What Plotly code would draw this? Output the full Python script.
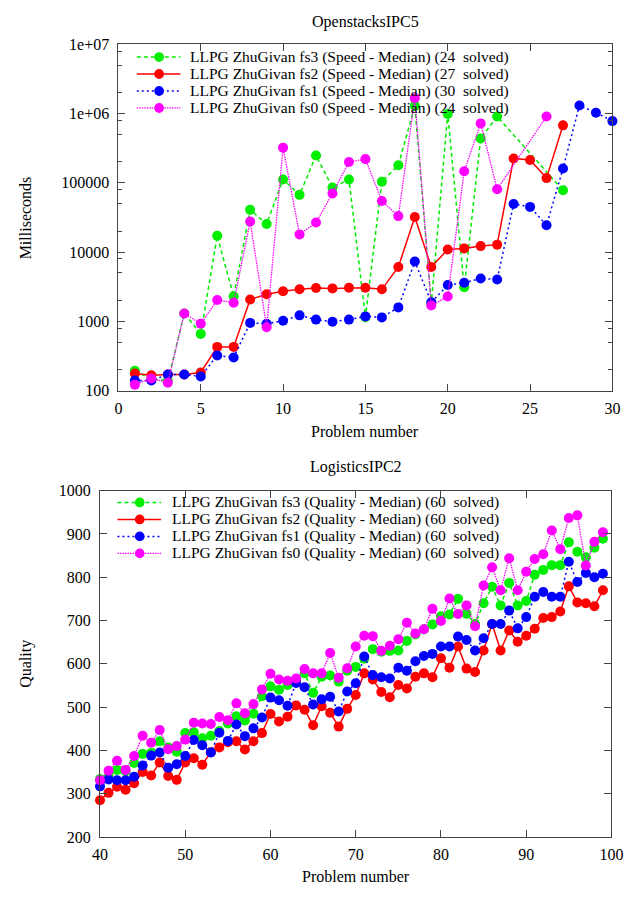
import plotly.graph_objects as go

W, H = 637, 898
FONT = "Liberation Serif"

# ---------------- OpenstacksIPC5 (Speed, milliseconds, log scale) ----------------
os_fs3_x = list(range(1, 24)) + [27]
os_fs3_y = [193, 147, 139, 1300, 659, 17200, 2300, 40700, 25500, 112000, 67000, 248000,
            85300, 112000, 1150, 104000, 179000, 1300000, 1800, 989000, 3100, 437000,
            907000, 78200]

os_fs2_x = list(range(1, 28))
os_fs2_y = [177, 166, 171, 171, 183, 428, 428, 2070, 2460, 2720, 2900, 3030, 2990, 3060,
            3060, 2900, 6090, 32100, 6090, 10900, 11300, 12200, 12800, 225000, 213000,
            117000, 676000]

os_fs1_x = list(range(1, 31))
os_fs1_y = [140, 140, 171, 171, 160, 322, 301, 950, 921, 1020, 1220, 1060, 985, 1060, 1180,
            1140, 1590, 7300, 1880, 3340, 3600, 4160, 4020, 49500, 44900, 24400, 161000,
            1310000, 1030000, 778000]

os_fs0_x = list(range(1, 24)) + [26]
os_fs0_y = [122, 150, 130, 1300, 927, 2030, 1860, 27700, 821, 322000, 18000, 26700, 70300,
            200000, 220000, 54600, 33100, 1670000, 1690, 2290, 147000, 721000, 80900, 907000]

os_labels = [
    "LLPG ZhuGivan fs3 (Speed - Median) (24 \u00a0solved)",
    "LLPG ZhuGivan fs2 (Speed - Median) (27 \u00a0solved)",
    "LLPG ZhuGivan fs1 (Speed - Median) (30 \u00a0solved)",
    "LLPG ZhuGivan fs0 (Speed - Median) (24 \u00a0solved)",
]
os_yticks = [100, 1000, 10000, 100000, 1000000, 10000000]
os_yticktext = ["100", "1000", "10000", "100000", "1e+06", "1e+07"]

# ---------------- LogisticsIPC2 (Quality) ----------------
lg_x = list(range(40, 100))
lg_fs3 = [334, 340, 355, 352, 371, 392, 394, 421, 407, 397, 440, 442, 428, 434, 445, 462,
          479, 469, 485, 525, 548, 540, 551, 563, 578, 533, 570, 573, 559, 584, 593, 612,
          634, 628, 630, 631, 653, 668, 680, 691, 710, 714, 750, 716, 692, 740, 778, 735,
          787, 735, 745, 806, 817, 828, 828, 881, 859, 846, 868, 889]
lg_fs2 = [285, 302, 316, 309, 324, 350, 342, 372, 341, 332, 372, 382, 367, 396, 407, 419,
          421, 402, 421, 440, 484, 467, 478, 504, 494, 458, 502, 487, 455, 496, 528, 578,
          564, 535, 523, 551, 543, 570, 578, 569, 613, 591, 640, 589, 581, 631, 692, 631,
          677, 651, 665, 681, 706, 708, 721, 779, 742, 740, 733, 770]
lg_fs1 = [317, 333, 331, 331, 339, 365, 388, 395, 360, 368, 387, 424, 412, 395, 441, 422,
          460, 433, 451, 476, 522, 516, 503, 556, 546, 506, 518, 524, 490, 536, 555, 617,
          574, 569, 566, 591, 584, 606, 618, 623, 640, 640, 663, 655, 631, 659, 692, 692,
          723, 682, 708, 755, 766, 755, 755, 836, 789, 810, 800, 808]
lg_fs0 = [331, 353, 376, 355, 387, 434, 418, 447, 403, 410, 425, 464, 462, 461, 477, 470,
          509, 486, 507, 541, 577, 564, 561, 566, 588, 578, 578, 625, 568, 590, 640, 665,
          664, 630, 642, 657, 695, 670, 680, 727, 699, 751, 715, 735, 687, 781, 823, 770,
          844, 770, 813, 842, 853, 908, 865, 937, 943, 827, 882, 904]

lg_labels = [
    "LLPG ZhuGivan fs3 (Quality - Median) (60 \u00a0solved)",
    "LLPG ZhuGivan fs2 (Quality - Median) (60 \u00a0solved)",
    "LLPG ZhuGivan fs1 (Quality - Median) (60 \u00a0solved)",
    "LLPG ZhuGivan fs0 (Quality - Median) (60 \u00a0solved)",
]

# styles: fs3, fs2, fs1, fs0
colors = ["#00ee00", "#ff0000", "#0000ff", "#ff00ff"]
dashes = ["4px,3px", "solid", "2px,3px", "1.5px,1px"]
widths = [1.5, 1.5, 1.5, 1.3]

fig = go.Figure()

os_series = [(os_fs3_x, os_fs3_y), (os_fs2_x, os_fs2_y), (os_fs1_x, os_fs1_y), (os_fs0_x, os_fs0_y)]
for i, (xs, ys) in enumerate(os_series):
    fig.add_trace(go.Scatter(
        x=xs, y=ys, mode="lines+markers", xaxis="x", yaxis="y", showlegend=False,
        cliponaxis=False,
        line=dict(color=colors[i], width=widths[i], dash=dashes[i]),
        marker=dict(size=10, color=colors[i], line=dict(width=0)),
        name=os_labels[i]))

lg_series = [lg_fs3, lg_fs2, lg_fs1, lg_fs0]
for i, ys in enumerate(lg_series):
    fig.add_trace(go.Scatter(
        x=lg_x, y=ys, mode="lines+markers", xaxis="x2", yaxis="y2", showlegend=False,
        cliponaxis=False,
        line=dict(color=colors[i], width=widths[i], dash=dashes[i]),
        marker=dict(size=10, color=colors[i], line=dict(width=0)),
        name=lg_labels[i]))

AX = "#444444"
common = dict(showline=True, linecolor=AX, linewidth=1, mirror="ticks", ticks="inside",
              ticklen=7, tickcolor=AX, tickwidth=1, showgrid=False, zeroline=False,
              tickfont=dict(family=FONT, size=16, color="black"))

minor_vals = []
for k in range(2, 7):
    for m in (2, 5, 8):
        minor_vals.append(m * 10 ** k)


def pxx(p):
    return p / W


def pxy(p):
    return 1 - p / H


fig.update_layout(
    width=W, height=H, autosize=False,
    margin=dict(l=0, r=0, t=0, b=0),
    paper_bgcolor="white", plot_bgcolor="white",
    font=dict(family=FONT, size=16, color="black"),
    xaxis=dict(domain=[pxx(114), pxx(624)], range=[0, 30], tickvals=[0, 5, 10, 15, 20, 25, 30],
               anchor="y", ticklabelstandoff=3, **common),
    yaxis=dict(domain=[pxy(390), pxy(37)], type="log", range=[2, 7], tickvals=os_yticks,
               ticktext=os_yticktext, anchor="x", ticklabelstandoff=5,
               minor=dict(tickvals=minor_vals, ticks="inside", ticklen=4, tickcolor=AX),
               **common),
    xaxis2=dict(domain=[pxx(95), pxx(623)], range=[40, 100], tickvals=list(range(40, 101, 10)),
                anchor="y2", ticklabelstandoff=3, **common),
    yaxis2=dict(domain=[pxy(845), pxy(492)], range=[200, 1000],
                tickvals=list(range(200, 1001, 100)), anchor="x2", ticklabelstandoff=5, **common),
)

ann = []
shapes = []


def text(x, y, s, angle=0, xanchor="center", size=16):
    ann.append(dict(x=pxx(x), y=pxy(y), xref="paper", yref="paper", text=s, showarrow=False,
                    textangle=angle, xanchor=xanchor, yanchor="middle",
                    font=dict(family=FONT, size=size, color="black")))


text(369, 14, "OpenstacksIPC5")
text(359, 468, "LogisticsIPC2")
text(369, 432, "Problem number")
text(359, 885, "Problem number")
text(19, 214, "Milliseconds", angle=-90)
text(19, 668, "Quality", angle=-90)


def legend(x0, x1, xm, xt, ys, labels):
    for i, (y, lab) in enumerate(zip(ys, labels)):
        shapes.append(dict(type="line", xref="paper", yref="paper",
                           x0=pxx(x0), x1=pxx(x1), y0=pxy(y), y1=pxy(y),
                           line=dict(color=colors[i], width=widths[i], dash=dashes[i])))
        r = 5
        shapes.append(dict(type="circle", xref="paper", yref="paper",
                           x0=pxx(xm - r), x1=pxx(xm + r), y0=pxy(y + r), y1=pxy(y - r),
                           fillcolor=colors[i], line=dict(width=0)))
        text(xt, y, lab, xanchor="left", size=15.5)


legend(133, 178, 156, 186, [50, 67.3, 84.6, 101.9], os_labels)
legend(113, 158, 136, 167, [504, 521.3, 538.6, 555.9], lg_labels)

fig.update_layout(annotations=ann, shapes=shapes)
fig.write_html("out.html")
